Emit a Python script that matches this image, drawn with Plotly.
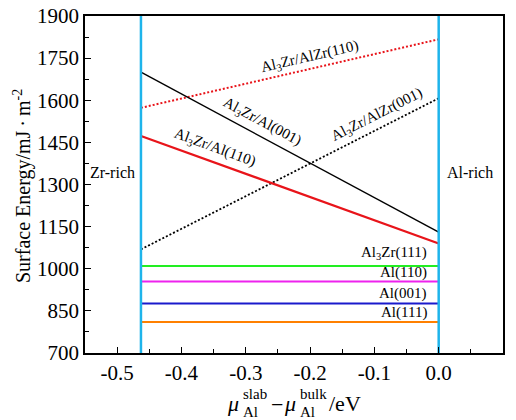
import plotly.graph_objects as go

# ---- data ----
mu_range = [-0.463, 0.0]                     # chemical potential limits (Zr-rich, Al-rich)
al3zr_al001 = [1700, 1130]                   # Al3Zr/Al(001)
al3zr_al110 = [1473, 1090]                   # Al3Zr/Al(110)
al3zr_alzr110 = [1573, 1817]                 # Al3Zr/AlZr(110)
al3zr_alzr001 = [1069, 1607]                 # Al3Zr/AlZr(001)
flat_names = ["Al<sub>3</sub>Zr(111)", "Al(110)", "Al(001)", "Al(111)"]
flat_values = [1010, 955, 876, 810]
flat_colors = ["#22EE22", "#EE22EE", "#1A1ACC", "#FF8000"]
x_tick_vals = [-0.5, -0.4, -0.3, -0.2, -0.1, 0.0, 0.1]
x_tick_labels = ["-0.5", "-0.4", "-0.3", "-0.2", "-0.1", "0.0", "0.1"]
y_tick_vals = [700, 850, 1000, 1150, 1300, 1450, 1600, 1750, 1900]

FONT = "Liberation Serif"
W, H = 516, 420
ML, MR, MT, MB = 85, 13, 16, 67
PW, PH = W - ML - MR, H - MT - MB


def px(xp):
    return (xp - ML) / PW


def py(yp):
    return (H - MB - yp) / PH


fig = go.Figure()

sloped = [
    (al3zr_alzr110, "#E8141A", "2px,2px", 2),
    (al3zr_alzr001, "black", "2px,2px", 1.8),
    (al3zr_al001, "black", "solid", 1.4),
    (al3zr_al110, "#E8141A", "solid", 2.2),
]
for vals, col, dash, w in sloped:
    fig.add_trace(go.Scatter(x=mu_range, y=vals, mode="lines",
                             line=dict(color=col, dash=dash, width=w),
                             showlegend=False))

for v, c in zip(flat_values, flat_colors):
    fig.add_trace(go.Scatter(x=mu_range, y=[v, v], mode="lines",
                             line=dict(color=c, width=2), showlegend=False))

for xv in mu_range:
    fig.add_trace(go.Scatter(x=[xv, xv], y=[700, 1900], mode="lines",
                             line=dict(color="#1EB4EB", width=2.5), showlegend=False))

ann = []
lab_font = dict(family=FONT, size=15, color="black")
for text, xc, yc, ang in [
    ("Al<sub>3</sub>Zr/AlZr(110)", 310, 57, -13),
    ("Al<sub>3</sub>Zr/Al(001)", 262, 122, 28),
    ("Al<sub>3</sub>Zr/Al(110)", 215, 148, 20),
    ("Al<sub>3</sub>Zr/AlZr(001)", 377, 115, -27),
]:
    ann.append(dict(text=text, x=px(xc), y=py(yc), xref="paper", yref="paper",
                    textangle=ang, showarrow=False, font=lab_font,
                    xanchor="center", yanchor="middle"))

for name, yc in zip(flat_names, [253, 272, 293, 312]):
    ann.append(dict(text=name, x=px(429), y=py(yc), xref="paper", yref="paper",
                    showarrow=False, font=lab_font, xanchor="right", yanchor="middle"))

for name, xc in [("Zr-rich", 112), ("Al-rich", 470)]:
    ann.append(dict(text=name, x=px(xc), y=py(172), xref="paper", yref="paper",
                    showarrow=False, xanchor="center", yanchor="middle",
                    font=dict(family=FONT, size=16, color="black")))

# y-axis title
ann.append(dict(text="Surface Energy/mJ\u2009·\u2009m<sup>-2</sup>", x=px(22), y=py(186),
                xref="paper", yref="paper", textangle=-90, showarrow=False,
                font=dict(family=FONT, size=20, color="black"),
                xanchor="center", yanchor="middle"))

# x-axis title built of stacked pieces
big = dict(family=FONT, size=22, color="black")
small = dict(family=FONT, size=15, color="black")
for text, xl, yc, f in [
    ("<i>μ</i>", 227, 403, big),
    ("slab", 243, 394, small),
    ("Al", 243, 412, small),
    ("−", 271, 404, big),
    ("<i>μ</i>", 284, 403, big),
    ("bulk", 300, 394, small),
    ("Al", 300, 412, small),
    ("/eV", 329, 403, big),
]:
    ann.append(dict(text=text, x=px(xl), y=py(yc), xref="paper", yref="paper",
                    showarrow=False, font=f, xanchor="left", yanchor="middle",
                    borderpad=0, borderwidth=0))

axis_common = dict(showgrid=False, zeroline=False, showline=True, linecolor="black",
                   linewidth=1.5, mirror=True, ticks="inside", ticklen=6,
                   tickcolor="black", tickwidth=1.3, automargin=False,
                   tickfont=dict(family=FONT, size=21, color="black"))

fig.update_layout(
    width=W, height=H,
    margin=dict(l=ML, r=MR, t=MT, b=MB, autoexpand=False),
    paper_bgcolor="white", plot_bgcolor="white",
    annotations=ann,
    xaxis=dict(range=[-0.55, 0.1], tickvals=x_tick_vals, ticktext=x_tick_labels,
               minor=dict(ticks="inside", ticklen=4, dtick=0.05, tick0=0,
                          tickcolor="black"),
               **axis_common),
    yaxis=dict(range=[700, 1900], tickvals=y_tick_vals,
               minor=dict(ticks="inside", ticklen=4, dtick=75, tick0=700,
                          tickcolor="black"),
               **axis_common),
)

fig.write_html("out.html", config={"displayModeBar": False},
               post_script="document.body.style.margin='0';document.body.style.overflow='hidden';")
